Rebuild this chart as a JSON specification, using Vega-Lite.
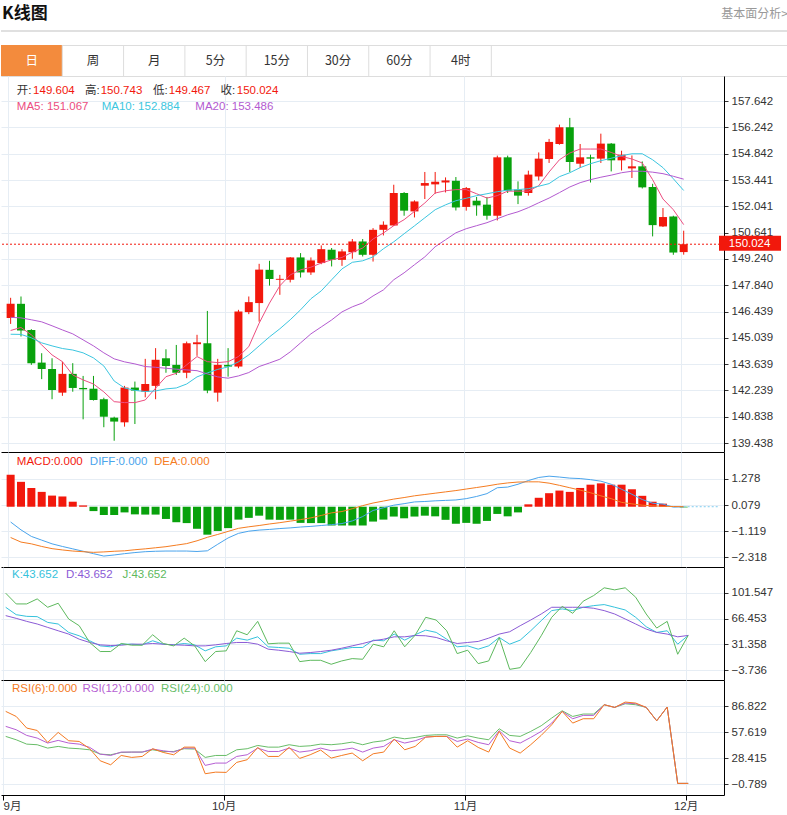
{
"$schema": "https://vega.github.io/schema/vega-lite/v6.json",
"padding": 0,
"spacing": 0,
"bounds": "flush",
"background": "white",
"config": {
  "view": {"stroke": null},
  "axis": {"gridColor": "#e6edf4", "domainColor": "#000000", "tickColor": "#333333", "labelColor": "#333333", "labelFont": "Liberation Sans, Noto Sans CJK SC", "labelFontSize": 11.5, "labelOverlap": false, "labelSeparation": 0},
  "text": {"font": "Liberation Sans, Noto Sans CJK SC"}
},
"resolve": {"scale": {"color": "independent"}},
"datasets": {
"k": [
{"i":0,"o":146.09,"h":147.17,"l":145.78,"c":146.85,"m5":145.43,"m10":145.23,"m20":146.13,"mh":1.47,"dif":-0.70,"dea":-1.41,"k":81.95,"d":70.6,"j":101.1,"r6":81.2,"r12":64.3,"r24":53.0},
{"i":1,"o":146.85,"h":147.24,"l":145.11,"c":145.43,"m5":145.59,"m10":145.22,"m20":146.1,"mh":1.14,"dif":-1.06,"dea":-1.62,"k":71.9,"d":66.9,"j":86.5,"r6":75.5,"r12":60.5,"r24":49.2},
{"i":2,"o":145.46,"h":145.5,"l":143.6,"c":143.69,"m5":145.2,"m10":145.04,"m20":146.0,"mh":0.86,"dif":-1.36,"dea":-1.70,"k":69.6,"d":62.8,"j":86.5,"r6":62.4,"r12":54.1,"r24":44.3},
{"i":3,"o":143.72,"h":144.22,"l":142.84,"c":143.38,"m5":144.66,"m10":144.77,"m20":145.89,"mh":0.68,"dif":-1.53,"dea":-1.82,"k":69.2,"d":59.2,"j":93.3,"r6":59.7,"r12":51.1,"r24":43.6},
{"i":4,"o":143.38,"h":143.95,"l":141.77,"c":142.26,"m5":144.13,"m10":144.61,"m20":145.68,"mh":0.51,"dif":-1.70,"dea":-1.92,"k":61.4,"d":54.6,"j":81.95,"r6":46.2,"r12":45.5,"r24":39.8},
{"i":5,"o":142.12,"h":143.77,"l":141.95,"c":143.12,"m5":143.77,"m10":144.47,"m20":145.46,"mh":0.47,"dif":-1.82,"dea":-1.98,"k":59.2,"d":50.0,"j":87.4,"r6":57.5,"r12":48.5,"r24":41.7},
{"i":6,"o":143.12,"h":143.69,"l":142.17,"c":142.37,"m5":143.06,"m10":144.39,"m20":145.25,"mh":0.23,"dif":-1.93,"dea":-2.03,"k":47.8,"d":45.5,"j":66.0,"r6":48.1,"r12":45.5,"r24":39.8},
{"i":7,"o":142.37,"h":143.01,"l":140.70,"c":142.30,"m5":142.80,"m10":144.24,"m20":144.93,"mh":0.06,"dif":-2.04,"dea":-2.06,"k":43.2,"d":38.6,"j":56.9,"r6":47.3,"r12":44.3,"r24":39.1},
{"i":8,"o":142.33,"h":143.01,"l":141.70,"c":141.73,"m5":142.58,"m10":143.97,"m20":144.61,"mh":-0.20,"dif":-2.15,"dea":-2.09,"k":36.4,"d":34.1,"j":34.1,"r6":39.1,"r12":40.6,"r24":37.9},
{"i":9,"o":141.77,"h":141.85,"l":140.28,"c":140.84,"m5":142.16,"m10":143.54,"m20":144.24,"mh":-0.38,"dif":-2.26,"dea":-2.07,"k":29.5,"d":30.9,"j":21.8,"r6":25.5,"r12":33.0,"r24":33.0},
{"i":10,"o":140.79,"h":140.84,"l":139.56,"c":140.58,"m5":141.64,"m10":142.74,"m20":143.92,"mh":-0.38,"dif":-2.21,"dea":-2.04,"k":28.2,"d":30.0,"j":21.8,"r6":21.0,"r12":31.5,"r24":32.3},
{"i":11,"o":140.54,"h":142.48,"l":140.31,"c":142.39,"m5":141.59,"m10":142.37,"m20":143.76,"mh":-0.26,"dif":-2.15,"dea":-2.02,"k":31.8,"d":30.4,"j":32.7,"r6":31.5,"r12":35.3,"r24":34.9},
{"i":12,"o":142.39,"h":142.71,"l":140.45,"c":142.23,"m5":141.59,"m10":142.24,"m20":143.65,"mh":-0.35,"dif":-2.10,"dea":-1.97,"k":31.8,"d":31.8,"j":30.4,"r6":29.3,"r12":35.3,"r24":35.3},
{"i":13,"o":142.17,"h":143.92,"l":141.87,"c":142.58,"m5":141.73,"m10":142.18,"m20":143.51,"mh":-0.36,"dif":-2.06,"dea":-1.93,"k":30.9,"d":31.8,"j":30.4,"r6":30.4,"r12":35.3,"r24":35.3},
{"i":14,"o":142.48,"h":144.49,"l":141.77,"c":143.87,"m5":142.36,"m10":142.21,"m20":143.47,"mh":-0.36,"dif":-2.04,"dea":-1.88,"k":36.4,"d":32.7,"j":44.6,"r6":39.1,"r12":38.7,"r24":37.9},
{"i":15,"o":143.95,"h":144.43,"l":143.18,"c":143.54,"m5":142.97,"m10":142.32,"m20":143.42,"mh":-0.56,"dif":-2.03,"dea":-1.83,"k":31.8,"d":31.8,"j":32.7,"r6":34.9,"r12":36.8,"r24":36.0},
{"i":16,"o":143.60,"h":144.66,"l":143.06,"c":143.18,"m5":143.15,"m10":142.37,"m20":143.37,"mh":-0.71,"dif":-2.03,"dea":-1.76,"k":30.9,"d":30.9,"j":29.5,"r6":32.3,"r12":35.3,"r24":36.0},
{"i":17,"o":143.18,"h":144.84,"l":142.89,"c":144.75,"m5":143.60,"m10":142.58,"m20":143.33,"mh":-0.75,"dif":-2.03,"dea":-1.69,"k":32.7,"d":30.4,"j":40.0,"r6":40.9,"r12":39.8,"r24":39.1},
{"i":18,"o":144.70,"h":145.20,"l":144.08,"c":144.80,"m5":144.04,"m10":142.96,"m20":143.29,"mh":-1.01,"dif":-2.05,"dea":-1.56,"k":30.9,"d":29.5,"j":29.5,"r6":40.9,"r12":39.8,"r24":38.7},
{"i":19,"o":144.75,"h":146.47,"l":142.09,"c":142.23,"m5":143.77,"m10":143.17,"m20":143.12,"mh":-1.28,"dif":-2.02,"dea":-1.40,"k":22.7,"d":29.5,"j":8.1,"r6":10.9,"r12":20.3,"r24":29.3},
{"i":20,"o":142.12,"h":143.92,"l":141.64,"c":143.60,"m5":143.72,"m10":143.36,"m20":142.96,"mh":-1.11,"dif":-1.72,"dea":-1.27,"k":28.2,"d":30.9,"j":21.8,"r6":12.7,"r12":22.9,"r24":31.5},
{"i":21,"o":143.60,"h":144.49,"l":142.97,"c":143.51,"m5":143.77,"m10":143.49,"m20":142.89,"mh":-0.98,"dif":-1.43,"dea":-1.13,"k":29.5,"d":32.7,"j":22.7,"r6":12.4,"r12":22.9,"r24":31.5},
{"i":22,"o":143.51,"h":146.53,"l":143.42,"c":146.44,"m5":144.04,"m10":143.76,"m20":143.01,"mh":-0.59,"dif":-1.22,"dea":-0.99,"k":40.0,"d":34.1,"j":50.0,"r6":23.7,"r12":30.4,"r24":37.9},
{"i":23,"o":146.41,"h":147.24,"l":146.30,"c":146.94,"m5":144.57,"m10":144.13,"m20":143.19,"mh":-0.51,"dif":-1.12,"dea":-0.92,"k":37.3,"d":34.1,"j":44.6,"r6":26.7,"r12":32.3,"r24":39.1},
{"i":24,"o":146.89,"h":148.98,"l":145.90,"c":148.67,"m5":145.82,"m10":144.61,"m20":143.51,"mh":-0.41,"dif":-1.07,"dea":-0.86,"k":41.8,"d":31.8,"j":62.8,"r6":40.6,"r12":39.8,"r24":42.8},
{"i":25,"o":148.66,"h":149.14,"l":147.82,"c":148.17,"m5":146.89,"m10":145.09,"m20":143.70,"mh":-0.59,"dif":-1.04,"dea":-0.79,"k":28.2,"d":25.0,"j":32.3,"r6":30.4,"r12":36.0,"r24":40.9},
{"i":26,"o":148.13,"h":148.39,"l":147.33,"c":148.18,"m5":147.81,"m10":145.52,"m20":143.90,"mh":-0.60,"dif":-1.00,"dea":-0.73,"k":27.3,"d":23.6,"j":33.2,"r6":30.4,"r12":36.0,"r24":40.9},
{"i":27,"o":148.13,"h":149.34,"l":147.99,"c":149.32,"m5":148.39,"m10":146.00,"m20":144.29,"mh":-0.59,"dif":-0.97,"dea":-0.66,"k":26.3,"d":21.8,"j":33.2,"r6":40.6,"r12":39.8,"r24":43.6},
{"i":28,"o":149.32,"h":149.55,"l":148.25,"c":148.52,"m5":148.66,"m10":146.53,"m20":144.77,"mh":-0.74,"dif":-0.93,"dea":-0.59,"k":18.1,"d":19.5,"j":8.1,"r6":28.2,"r12":35.3,"r24":41.7},
{"i":29,"o":148.52,"h":149.32,"l":148.39,"c":149.16,"m5":148.80,"m10":147.12,"m20":145.25,"mh":-0.75,"dif":-0.90,"dea":-0.51,"k":19.0,"d":20.4,"j":9.9,"r6":32.3,"r12":36.8,"r24":42.4},
{"i":30,"o":149.02,"h":149.96,"l":148.96,"c":149.76,"m5":149.02,"m10":147.54,"m20":145.62,"mh":-0.75,"dif":-0.86,"dea":-0.40,"k":19.0,"d":21.8,"j":9.9,"r6":37.6,"r12":39.8,"r24":44.3},
{"i":31,"o":149.73,"h":149.82,"l":148.84,"c":149.19,"m5":149.19,"m10":148.13,"m20":145.99,"mh":-0.86,"dif":-0.82,"dea":-0.28,"k":22.7,"d":23.6,"j":4.5,"r6":28.5,"r12":36.8,"r24":43.6},
{"i":32,"o":149.19,"h":149.76,"l":148.87,"c":149.64,"m5":149.32,"m10":148.71,"m20":146.42,"mh":-0.86,"dif":-0.77,"dea":-0.22,"k":25.0,"d":26.3,"j":9.0,"r6":31.5,"r12":37.9,"r24":44.7},
{"i":33,"o":149.60,"h":150.30,"l":149.25,"c":150.17,"m5":149.60,"m10":149.06,"m20":146.69,"mh":-0.86,"dif":-0.65,"dea":-0.09,"k":27.3,"d":29.5,"j":12.2,"r6":34.2,"r12":39.8,"r24":46.6},
{"i":34,"o":150.17,"h":150.30,"l":149.37,"c":149.46,"m5":149.82,"m10":149.14,"m20":146.90,"mh":-0.86,"dif":-0.45,"dea":0.05,"k":27.3,"d":32.7,"j":11.3,"r6":25.5,"r12":35.3,"r24":43.6},
{"i":35,"o":149.46,"h":150.88,"l":149.10,"c":150.79,"m5":150.30,"m10":149.35,"m20":147.27,"mh":-0.68,"dif":-0.17,"dea":0.17,"k":37.3,"d":36.4,"j":31.8,"r6":33.4,"r12":39.8,"r24":46.6},
{"i":36,"o":150.79,"h":151.24,"l":150.49,"c":151.06,"m5":150.62,"m10":149.78,"m20":147.59,"mh":-0.59,"dif":-0.05,"dea":0.26,"k":36.4,"d":38.6,"j":28.2,"r6":35.3,"r12":41.7,"r24":48.1},
{"i":37,"o":151.02,"h":153.19,"l":151.00,"c":152.75,"m5":151.01,"m10":150.15,"m20":148.13,"mh":-0.45,"dif":0.07,"dea":0.35,"k":45.5,"d":41.8,"j":50.0,"r6":50.0,"r12":49.2,"r24":52.2},
{"i":38,"o":152.75,"h":152.80,"l":151.54,"c":151.81,"m5":151.33,"m10":150.58,"m20":148.50,"mh":-0.53,"dif":0.14,"dea":0.42,"k":37.3,"d":41.8,"j":28.2,"r6":37.9,"r12":45.5,"r24":50.3},
{"i":39,"o":151.77,"h":152.36,"l":151.45,"c":152.30,"m5":151.77,"m10":151.00,"m20":148.93,"mh":-0.45,"dif":0.22,"dea":0.50,"k":44.6,"d":43.6,"j":44.1,"r6":41.7,"r12":48.1,"r24":51.8},
{"i":40,"o":153.14,"h":153.87,"l":152.43,"c":153.28,"m5":152.22,"m10":151.43,"m20":149.35,"mh":-0.41,"dif":0.24,"dea":0.56,"k":50.9,"d":43.2,"j":68.3,"r6":52.2,"r12":52.2,"r24":54.1},
{"i":41,"o":153.21,"h":153.87,"l":152.71,"c":153.35,"m5":152.75,"m10":151.86,"m20":149.89,"mh":-0.44,"dif":0.27,"dea":0.62,"k":47.8,"d":40.9,"j":64.6,"r6":53.0,"r12":53.0,"r24":54.8},
{"i":42,"o":153.31,"h":153.58,"l":152.78,"c":153.42,"m5":152.87,"m10":152.12,"m20":150.26,"mh":-0.60,"dif":0.29,"dea":0.68,"k":38.6,"d":36.4,"j":50.0,"r6":53.0,"r12":53.0,"r24":54.8},
{"i":43,"o":153.40,"h":153.60,"l":151.82,"c":151.98,"m5":152.93,"m10":152.34,"m20":150.63,"mh":-0.78,"dif":0.31,"dea":0.74,"k":28.2,"d":32.7,"j":19.0,"r6":40.9,"r12":47.3,"r24":51.1},
{"i":44,"o":152.01,"h":153.07,"l":151.81,"c":153.01,"m5":152.93,"m10":152.47,"m20":150.85,"mh":-0.74,"dif":0.37,"dea":0.81,"k":29.5,"d":34.1,"j":23.6,"r6":48.1,"r12":50.0,"r24":53.7},
{"i":45,"o":152.34,"h":152.54,"l":151.54,"c":152.09,"m5":152.71,"m10":152.61,"m20":151.01,"mh":-0.78,"dif":0.47,"dea":0.88,"k":25.0,"d":35.5,"j":5.4,"r6":40.6,"r12":46.2,"r24":51.1},
{"i":46,"o":152.13,"h":152.54,"l":151.33,"c":151.54,"m5":152.48,"m10":152.71,"m20":151.17,"mh":-0.65,"dif":0.60,"dea":0.95,"k":29.5,"d":40.0,"j":9.0,"r6":35.3,"r12":43.6,"r24":49.2},
{"i":47,"o":151.54,"h":154.74,"l":151.29,"c":154.65,"m5":152.61,"m10":152.82,"m20":151.38,"mh":-0.33,"dif":0.87,"dea":1.03,"k":40.9,"d":45.5,"j":40.9,"r6":58.6,"r12":59.4,"r24":61.6},
{"i":48,"o":154.65,"h":154.74,"l":152.75,"c":152.87,"m5":152.85,"m10":152.90,"m20":151.59,"mh":-0.44,"dif":0.90,"dea":1.09,"k":31.8,"d":48.7,"j":-2.4,"r6":39.8,"r12":48.1,"r24":54.1},
{"i":49,"o":152.93,"h":153.37,"l":152.16,"c":152.61,"m5":152.85,"m10":152.93,"m20":151.75,"mh":-0.26,"dif":1.03,"dea":1.13,"k":37.3,"d":56.9,"j":-0.1,"r6":34.2,"r12":45.5,"r24":53.0},
{"i":50,"o":152.75,"h":153.94,"l":152.61,"c":153.73,"m5":152.85,"m10":152.98,"m20":151.97,"mh":0.11,"dif":1.20,"dea":1.14,"k":50.0,"d":64.6,"j":20.4,"r6":43.6,"r12":51.8,"r24":58.6},
{"i":51,"o":153.63,"h":154.91,"l":153.42,"c":154.58,"m5":153.14,"m10":153.11,"m20":152.23,"mh":0.41,"dif":1.34,"dea":1.14,"k":63.7,"d":72.8,"j":43.2,"r6":54.1,"r12":58.6,"r24":65.0},
{"i":52,"o":154.56,"h":155.63,"l":154.35,"c":155.47,"m5":153.87,"m10":153.25,"m20":152.48,"mh":0.62,"dif":1.40,"dea":1.08,"k":77.4,"d":81.95,"j":68.3,"r6":66.1,"r12":68.0,"r24":73.7},
{"i":53,"o":155.36,"h":156.39,"l":155.32,"c":156.25,"m5":154.52,"m10":153.62,"m20":152.77,"mh":0.74,"dif":1.36,"dea":0.98,"k":79.7,"d":81.95,"j":83.3,"r6":81.2,"r12":81.2,"r24":81.9},
{"i":54,"o":156.25,"h":156.75,"l":153.87,"c":154.40,"m5":154.88,"m10":153.83,"m20":153.07,"mh":0.68,"dif":1.31,"dea":0.87,"k":77.4,"d":81.95,"j":73.7,"r6":68.0,"r12":72.9,"r24":75.5},
{"i":55,"o":154.31,"h":155.36,"l":154.08,"c":154.65,"m5":155.09,"m10":154.10,"m20":153.30,"mh":0.86,"dif":1.29,"dea":0.76,"k":81.95,"d":81.95,"j":90.2,"r6":72.9,"r12":76.7,"r24":78.2},
{"i":56,"o":154.65,"h":154.79,"l":153.31,"c":154.58,"m5":155.09,"m10":154.31,"m20":153.46,"mh":1.01,"dif":1.24,"dea":0.64,"k":84.2,"d":80.6,"j":97.9,"r6":72.9,"r12":76.7,"r24":78.2},
{"i":57,"o":154.58,"h":155.91,"l":154.35,"c":155.38,"m5":155.09,"m10":154.47,"m20":153.59,"mh":1.07,"dif":1.17,"dea":0.50,"k":85.6,"d":77.4,"j":108.4,"r6":88.7,"r12":88.7,"r24":88.7},
{"i":58,"o":155.38,"h":155.41,"l":153.90,"c":154.49,"m5":154.91,"m10":154.60,"m20":153.70,"mh":1.01,"dif":1.03,"dea":0.37,"k":82.0,"d":72.8,"j":105.6,"r6":85.7,"r12":85.7,"r24":85.7},
{"i":59,"o":154.49,"h":155.00,"l":153.95,"c":154.79,"m5":154.70,"m10":154.74,"m20":153.83,"mh":1.01,"dif":0.80,"dea":0.20,"k":78.3,"d":66.0,"j":108.4,"r6":91.7,"r12":90.6,"r24":89.8},
{"i":60,"o":154.06,"h":154.75,"l":153.55,"c":154.17,"m5":154.56,"m10":154.84,"m20":153.91,"mh":0.80,"dif":0.57,"dea":0.13,"k":68.3,"d":59.2,"j":95.6,"r6":90.6,"r12":89.8,"r24":88.7},
{"i":61,"o":154.17,"h":154.43,"l":152.99,"c":153.05,"m5":154.35,"m10":154.84,"m20":153.91,"mh":0.50,"dif":0.33,"dea":0.07,"k":55.5,"d":52.3,"j":72.8,"r6":85.7,"r12":85.7,"r24":85.7},
{"i":62,"o":153.07,"h":153.24,"l":150.44,"c":151.04,"m5":153.46,"m10":154.52,"m20":153.86,"mh":0.23,"dif":0.16,"dea":0.04,"k":47.8,"d":47.8,"j":53.7,"r6":70.6,"r12":70.6,"r24":70.6},
{"i":63,"o":150.97,"h":151.95,"l":150.94,"c":151.47,"m5":152.43,"m10":154.10,"m20":153.78,"mh":0.14,"dif":0.12,"dea":0.02,"k":50.0,"d":45.5,"j":62.8,"r6":86.1,"r12":86.1,"r24":86.1},
{"i":64,"o":151.50,"h":151.54,"l":149.46,"c":149.58,"m5":151.86,"m10":153.51,"m20":153.64,"mh":0.01,"dif":-0.02,"dea":0.01,"k":31.8,"d":41.8,"j":18.1,"r6":0,"r12":0,"r24":0},
{"i":65,"o":149.604,"h":150.743,"l":149.467,"c":150.024,"m5":151.067,"m10":152.884,"m20":153.486,"mh":-0.03,"dif":0,"dea":0,"k":43.652,"d":43.652,"j":43.652,"r6":0,"r12":0,"r24":0}
]
},
"vconcat": [
{
  "width": 787, "height": 45,
  "layer": [
    {"data": {"values": [{"t": "K线图", "x": 0, "y": 0.68}]},
     "mark": {"type": "text", "align": "left", "baseline": "middle", "fontSize": 17, "fontWeight": "bold", "font": "Noto Sans CJK SC", "color": "#111111", "dx": 1},
     "encoding": {"x": {"field": "x", "type": "quantitative", "scale": {"domain": [0, 1]}, "axis": null},
                  "y": {"field": "y", "type": "quantitative", "scale": {"domain": [0, 1]}, "axis": null},
                  "text": {"field": "t"}}},
    {"data": {"values": [{"t": "基本面分析>", "x": 1, "y": 0.7}]},
     "mark": {"type": "text", "align": "right", "baseline": "middle", "fontSize": 12, "font": "Noto Sans CJK SC", "color": "#999999"},
     "encoding": {"x": {"field": "x", "type": "quantitative", "scale": {"domain": [0, 1]}, "axis": null},
                  "y": {"field": "y", "type": "quantitative", "scale": {"domain": [0, 1]}, "axis": null},
                  "text": {"field": "t"}}},
    {"data": {"values": [{"y": 0.311}]},
     "mark": {"type": "rule", "color": "#d6d6d6", "strokeWidth": 1.5},
     "encoding": {"y": {"field": "y", "type": "quantitative", "scale": {"domain": [0, 1]}, "axis": null}}}
  ]
},
{
  "width": 787, "height": 31,
  "view": {"stroke": "#dddddd"},
  "layer": [
    {"data": {"values": [{"a": -0.5, "b": 0.5}]},
     "mark": {"type": "rect", "color": "#f38b3d"},
     "encoding": {"x": {"field": "a", "type": "quantitative", "scale": {"domain": [-0.5, 12.34], "nice": false, "zero": false}, "axis": null},
                  "x2": {"field": "b"}}},
    {"data": {"values": [{"b": 0.5}, {"b": 1.5}, {"b": 2.5}, {"b": 3.5}, {"b": 4.5}, {"b": 5.5}, {"b": 6.5}, {"b": 7.5}]},
     "mark": {"type": "rule", "color": "#dddddd"},
     "encoding": {"x": {"field": "b", "type": "quantitative", "scale": {"domain": [-0.5, 12.34], "nice": false, "zero": false}, "axis": null}}},
    {"data": {"values": [{"n": 0, "t": "日"}, {"n": 1, "t": "周"}, {"n": 2, "t": "月"}, {"n": 3, "t": "5分"}, {"n": 4, "t": "15分"}, {"n": 5, "t": "30分"}, {"n": 6, "t": "60分"}, {"n": 7, "t": "4时"}]},
     "mark": {"type": "text", "fontSize": 12.5, "font": "Noto Sans CJK SC", "baseline": "middle"},
     "encoding": {"x": {"field": "n", "type": "quantitative", "scale": {"domain": [-0.5, 12.34], "nice": false, "zero": false}, "axis": null},
                  "text": {"field": "t"},
                  "color": {"condition": {"test": "datum.n == 0", "value": "#ffffff"}, "value": "#333333"}}}
  ]
},
{
  "width": 723, "height": 376,
  "data": {"name": "k"},
  "layer": [
    {"mark": {"type": "rule", "strokeWidth": 1},
     "encoding": {
       "x": {"field": "i", "type": "quantitative", "scale": {"domain": [-0.4476, 68.41], "nice": false, "zero": false}, "axis": {"values": [-0.25, 20.75, 43.75, 64.75], "labels": false, "ticks": false, "grid": true, "domain": true, "title": null}},
       "y": {"field": "l", "type": "quantitative", "scale": {"domain": [138.96, 158.98], "nice": false, "zero": false}, "axis": {"orient": "right", "values": [157.642, 156.242, 154.842, 153.441, 152.041, 150.641, 149.240, 147.840, 146.439, 145.039, 143.639, 142.239, 140.838, 139.438], "format": ".3f", "grid": true, "tickSize": 4, "labelPadding": 3, "labelOverlap": false, "title": null}},
       "y2": {"field": "h"},
       "color": {"condition": {"test": "datum.c >= datum.o", "value": "#f2180c"}, "value": "#08a10c"}}},
    {"mark": {"type": "bar", "width": 8},
     "encoding": {
       "x": {"field": "i", "type": "quantitative", "axis": {"values": [-0.25, 20.75, 43.75, 64.75], "labels": false, "ticks": false, "grid": true, "domain": true, "title": null}},
       "y": {"field": "o", "type": "quantitative", "axis": {"orient": "right", "values": [157.642, 156.242, 154.842, 153.441, 152.041, 150.641, 149.240, 147.840, 146.439, 145.039, 143.639, 142.239, 140.838, 139.438], "format": ".3f", "grid": true, "tickSize": 4, "labelPadding": 3, "labelOverlap": false, "title": null}},
       "y2": {"field": "c"},
       "color": {"condition": {"test": "datum.c >= datum.o", "value": "#f2180c"}, "value": "#08a10c"}}},
    {"mark": {"type": "line", "color": "#ec4d7f", "strokeWidth": 1},
     "encoding": {
       "x": {"field": "i", "type": "quantitative", "axis": {"values": [-0.25, 20.75, 43.75, 64.75], "labels": false, "ticks": false, "grid": true, "domain": true, "title": null}},
       "y": {"field": "m5", "type": "quantitative", "axis": {"orient": "right", "values": [157.642, 156.242, 154.842, 153.441, 152.041, 150.641, 149.240, 147.840, 146.439, 145.039, 143.639, 142.239, 140.838, 139.438], "format": ".3f", "grid": true, "tickSize": 4, "labelPadding": 3, "labelOverlap": false, "title": null}}}},
    {"mark": {"type": "line", "color": "#3cc6e0", "strokeWidth": 1},
     "encoding": {
       "x": {"field": "i", "type": "quantitative", "axis": {"values": [-0.25, 20.75, 43.75, 64.75], "labels": false, "ticks": false, "grid": true, "domain": true, "title": null}},
       "y": {"field": "m10", "type": "quantitative", "axis": {"orient": "right", "values": [157.642, 156.242, 154.842, 153.441, 152.041, 150.641, 149.240, 147.840, 146.439, 145.039, 143.639, 142.239, 140.838, 139.438], "format": ".3f", "grid": true, "tickSize": 4, "labelPadding": 3, "labelOverlap": false, "title": null}}}},
    {"mark": {"type": "line", "color": "#b35ad0", "strokeWidth": 1},
     "encoding": {
       "x": {"field": "i", "type": "quantitative", "axis": {"values": [-0.25, 20.75, 43.75, 64.75], "labels": false, "ticks": false, "grid": true, "domain": true, "title": null}},
       "y": {"field": "m20", "type": "quantitative", "axis": {"orient": "right", "values": [157.642, 156.242, 154.842, 153.441, 152.041, 150.641, 149.240, 147.840, 146.439, 145.039, 143.639, 142.239, 140.838, 139.438], "format": ".3f", "grid": true, "tickSize": 4, "labelPadding": 3, "labelOverlap": false, "title": null}}}},
    {"data": {"values": [{"p": 150.024}]},
     "mark": {"type": "rule", "color": "#f2180c", "strokeDash": [2, 2], "strokeWidth": 1},
     "encoding": {"y": {"field": "p", "type": "quantitative", "axis": {"orient": "right", "values": [157.642, 156.242, 154.842, 153.441, 152.041, 150.641, 149.240, 147.840, 146.439, 145.039, 143.639, 142.239, 140.838, 139.438], "format": ".3f", "grid": true, "tickSize": 4, "labelPadding": 3, "labelOverlap": false, "title": null}}}},
    {"data": {"values": [{"a": 68.41, "b": 74.4, "lo": 149.674, "hi": 150.473}]},
     "mark": {"type": "rect", "color": "#f2180c"},
     "encoding": {
       "x": {"field": "a", "type": "quantitative", "axis": {"values": [-0.25, 20.75, 43.75, 64.75], "labels": false, "ticks": false, "grid": true, "domain": true, "title": null}},
       "x2": {"field": "b"},
       "y": {"field": "lo", "type": "quantitative", "axis": {"orient": "right", "values": [157.642, 156.242, 154.842, 153.441, 152.041, 150.641, 149.240, 147.840, 146.439, 145.039, 143.639, 142.239, 140.838, 139.438], "format": ".3f", "grid": true, "tickSize": 4, "labelPadding": 3, "labelOverlap": false, "title": null}},
       "y2": {"field": "hi"}}},
    {"data": {"values": [{"t": "150.024", "x": 69.36, "y": 150.024}]},
     "mark": {"type": "text", "align": "left", "baseline": "middle", "fontSize": 11.5, "color": "#ffffff"},
     "encoding": {
       "x": {"field": "x", "type": "quantitative", "axis": {"values": [-0.25, 20.75, 43.75, 64.75], "labels": false, "ticks": false, "grid": true, "domain": true, "title": null}},
       "y": {"field": "y", "type": "quantitative", "axis": {"orient": "right", "values": [157.642, 156.242, 154.842, 153.441, 152.041, 150.641, 149.240, 147.840, 146.439, 145.039, 143.639, 142.239, 140.838, 139.438], "format": ".3f", "grid": true, "tickSize": 4, "labelPadding": 3, "labelOverlap": false, "title": null}},
       "text": {"field": "t"}}},
    {"data": {"values": [
       {"t": "开:", "x": 0.6, "y": 158.2, "s": "lab"},
       {"t": "149.604", "x": 2.17, "y": 158.2, "s": "val"},
       {"t": "高:", "x": 7.17, "y": 158.2, "s": "lab"},
       {"t": "150.743", "x": 8.7, "y": 158.2, "s": "val"},
       {"t": "低:", "x": 13.74, "y": 158.2, "s": "lab"},
       {"t": "149.467", "x": 15.27, "y": 158.2, "s": "val"},
       {"t": "收:", "x": 20.27, "y": 158.2, "s": "lab"},
       {"t": "150.024", "x": 21.84, "y": 158.2, "s": "val"},
       {"t": "MA5: 151.067", "x": 0.6, "y": 157.35, "s": "ma5"},
       {"t": "MA10: 152.884", "x": 8.79, "y": 157.35, "s": "ma10"},
       {"t": "MA20: 153.486", "x": 17.84, "y": 157.35, "s": "ma20"}]},
     "mark": {"type": "text", "align": "left", "baseline": "middle", "fontSize": 11.5},
     "encoding": {
       "x": {"field": "x", "type": "quantitative", "axis": {"values": [-0.25, 20.75, 43.75, 64.75], "labels": false, "ticks": false, "grid": true, "domain": true, "title": null}},
       "y": {"field": "y", "type": "quantitative", "axis": {"orient": "right", "values": [157.642, 156.242, 154.842, 153.441, 152.041, 150.641, 149.240, 147.840, 146.439, 145.039, 143.639, 142.239, 140.838, 139.438], "format": ".3f", "grid": true, "tickSize": 4, "labelPadding": 3, "labelOverlap": false, "title": null}},
       "text": {"field": "t"},
       "color": {"field": "s", "type": "nominal", "scale": {"domain": ["lab", "val", "ma5", "ma10", "ma20"], "range": ["#333333", "#f2180c", "#ec4d7f", "#3cc6e0", "#b35ad0"]}, "legend": null}}}
  ]
},
{
  "width": 723, "height": 115,
  "data": {"name": "k"},
  "layer": [
    {"mark": {"type": "bar", "width": 8},
     "encoding": {
       "x": {"field": "i", "type": "quantitative", "scale": {"domain": [-0.4476, 68.41], "nice": false, "zero": false}, "axis": {"values": [-0.25, 20.75, 43.75, 64.75], "labels": false, "ticks": false, "grid": true, "domain": true, "title": null}},
       "y": {"field": "mh", "type": "quantitative", "scale": {"domain": [-2.761, 2.507], "nice": false, "zero": false}, "axis": {"orient": "right", "values": [1.278, 0.079, -1.119, -2.318], "format": ".3f", "grid": true, "tickSize": 4, "labelPadding": 3, "labelOverlap": false, "title": null}},
       "y2": {"datum": 0},
       "color": {"condition": {"test": "datum.mh >= 0", "value": "#f2180c"}, "value": "#08a10c"}}},
    {"mark": {"type": "line", "color": "#4aa4ec", "strokeWidth": 1},
     "encoding": {
       "x": {"field": "i", "type": "quantitative", "axis": {"values": [-0.25, 20.75, 43.75, 64.75], "labels": false, "ticks": false, "grid": true, "domain": true, "title": null}},
       "y": {"field": "dif", "type": "quantitative", "axis": {"orient": "right", "values": [1.278, 0.079, -1.119, -2.318], "format": ".3f", "grid": true, "tickSize": 4, "labelPadding": 3, "labelOverlap": false, "title": null}}}},
    {"mark": {"type": "line", "color": "#f57c21", "strokeWidth": 1},
     "encoding": {
       "x": {"field": "i", "type": "quantitative", "axis": {"values": [-0.25, 20.75, 43.75, 64.75], "labels": false, "ticks": false, "grid": true, "domain": true, "title": null}},
       "y": {"field": "dea", "type": "quantitative", "axis": {"orient": "right", "values": [1.278, 0.079, -1.119, -2.318], "format": ".3f", "grid": true, "tickSize": 4, "labelPadding": 3, "labelOverlap": false, "title": null}}}},
    {"data": {"values": [{"a": 65, "b": 68.41, "v": 0}]},
     "mark": {"type": "rule", "color": "#7fcdf0", "strokeDash": [2, 2], "strokeWidth": 1},
     "encoding": {
       "x": {"field": "a", "type": "quantitative", "axis": {"values": [-0.25, 20.75, 43.75, 64.75], "labels": false, "ticks": false, "grid": true, "domain": true, "title": null}},
       "x2": {"field": "b"},
       "y": {"field": "v", "type": "quantitative", "axis": {"orient": "right", "values": [1.278, 0.079, -1.119, -2.318], "format": ".3f", "grid": true, "tickSize": 4, "labelPadding": 3, "labelOverlap": false, "title": null}}}},
    {"data": {"values": [
       {"t": "MACD:0.000", "x": 0.6, "y": 2.05, "s": "m"},
       {"t": "DIFF:0.000", "x": 7.65, "y": 2.05, "s": "dif"},
       {"t": "DEA:0.000", "x": 13.84, "y": 2.05, "s": "dea"}]},
     "mark": {"type": "text", "align": "left", "baseline": "middle", "fontSize": 11.5},
     "encoding": {
       "x": {"field": "x", "type": "quantitative", "axis": {"values": [-0.25, 20.75, 43.75, 64.75], "labels": false, "ticks": false, "grid": true, "domain": true, "title": null}},
       "y": {"field": "y", "type": "quantitative", "axis": {"orient": "right", "values": [1.278, 0.079, -1.119, -2.318], "format": ".3f", "grid": true, "tickSize": 4, "labelPadding": 3, "labelOverlap": false, "title": null}},
       "text": {"field": "t"},
       "color": {"field": "s", "type": "nominal", "scale": {"domain": ["m", "dif", "dea"], "range": ["#f2180c", "#4aa4ec", "#f57c21"]}, "legend": null}}}
  ]
},
{
  "width": 723, "height": 113,
  "data": {"name": "k"},
  "layer": [
    {"mark": {"type": "line", "color": "#35c2dc", "strokeWidth": 1},
     "encoding": {
       "x": {"field": "i", "type": "quantitative", "scale": {"domain": [-0.4476, 68.41], "nice": false, "zero": false}, "axis": {"values": [-0.25, 20.75, 43.75, 64.75], "labels": false, "ticks": false, "grid": true, "domain": true, "title": null}},
       "y": {"field": "k", "type": "quantitative", "scale": {"domain": [-16.89, 136.68], "nice": false, "zero": false}, "axis": {"orient": "right", "values": [101.547, 66.453, 31.358, -3.736], "format": ".3f", "grid": true, "tickSize": 4, "labelPadding": 3, "labelOverlap": false, "title": null}}}},
    {"mark": {"type": "line", "color": "#8b5bd6", "strokeWidth": 1},
     "encoding": {
       "x": {"field": "i", "type": "quantitative", "axis": {"values": [-0.25, 20.75, 43.75, 64.75], "labels": false, "ticks": false, "grid": true, "domain": true, "title": null}},
       "y": {"field": "d", "type": "quantitative", "axis": {"orient": "right", "values": [101.547, 66.453, 31.358, -3.736], "format": ".3f", "grid": true, "tickSize": 4, "labelPadding": 3, "labelOverlap": false, "title": null}}}},
    {"mark": {"type": "line", "color": "#5db95d", "strokeWidth": 1},
     "encoding": {
       "x": {"field": "i", "type": "quantitative", "axis": {"values": [-0.25, 20.75, 43.75, 64.75], "labels": false, "ticks": false, "grid": true, "domain": true, "title": null}},
       "y": {"field": "j", "type": "quantitative", "axis": {"orient": "right", "values": [101.547, 66.453, 31.358, -3.736], "format": ".3f", "grid": true, "tickSize": 4, "labelPadding": 3, "labelOverlap": false, "title": null}}}},
    {"data": {"values": [
       {"t": "K:43.652", "x": 0.6, "y": 125.8, "s": "k"},
       {"t": "D:43.652", "x": 5.74, "y": 125.8, "s": "d"},
       {"t": "J:43.652", "x": 11.12, "y": 125.8, "s": "j"}]},
     "mark": {"type": "text", "align": "left", "baseline": "middle", "fontSize": 11.5},
     "encoding": {
       "x": {"field": "x", "type": "quantitative", "axis": {"values": [-0.25, 20.75, 43.75, 64.75], "labels": false, "ticks": false, "grid": true, "domain": true, "title": null}},
       "y": {"field": "y", "type": "quantitative", "axis": {"orient": "right", "values": [101.547, 66.453, 31.358, -3.736], "format": ".3f", "grid": true, "tickSize": 4, "labelPadding": 3, "labelOverlap": false, "title": null}},
       "text": {"field": "t"},
       "color": {"field": "s", "type": "nominal", "scale": {"domain": ["k", "d", "j"], "range": ["#35c2dc", "#8b5bd6", "#5db95d"]}, "legend": null}}}
  ]
},
{
  "width": 723, "height": 115,
  "data": {"name": "k"},
  "layer": [
    {"mark": {"type": "line", "color": "#68bd68", "strokeWidth": 1},
     "encoding": {
       "x": {"field": "i", "type": "quantitative", "scale": {"domain": [-0.4476, 68.41], "nice": false, "zero": false}, "axis": {"values": [-0.25, 20.75, 43.75, 64.75], "labelExpr": "datum.value < 10 ? '9月' : datum.value < 30 ? '10月' : datum.value < 50 ? '11月' : '12月'", "labels": true, "ticks": true, "tickSize": 5, "tickColor": "#000000", "labelPadding": 0, "labelFlush": 6, "labelOverlap": false, "grid": true, "domain": true, "title": null}},
       "y": {"field": "r24", "type": "quantitative", "scale": {"domain": [-13.08, 116.59], "nice": false, "zero": false}, "axis": {"orient": "right", "values": [86.822, 57.619, 28.415, -0.789], "format": ".3f", "grid": true, "tickSize": 4, "labelPadding": 3, "labelOverlap": false, "title": null}}}},
    {"mark": {"type": "line", "color": "#b65fd3", "strokeWidth": 1},
     "encoding": {
       "x": {"field": "i", "type": "quantitative", "axis": {"values": [-0.25, 20.75, 43.75, 64.75], "labelExpr": "datum.value < 10 ? '9月' : datum.value < 30 ? '10月' : datum.value < 50 ? '11月' : '12月'", "labels": true, "ticks": true, "tickSize": 5, "tickColor": "#000000", "labelPadding": 0, "labelFlush": 6, "labelOverlap": false, "grid": true, "domain": true, "title": null}},
       "y": {"field": "r12", "type": "quantitative", "axis": {"orient": "right", "values": [86.822, 57.619, 28.415, -0.789], "format": ".3f", "grid": true, "tickSize": 4, "labelPadding": 3, "labelOverlap": false, "title": null}}}},
    {"mark": {"type": "line", "color": "#f47a22", "strokeWidth": 1},
     "encoding": {
       "x": {"field": "i", "type": "quantitative", "axis": {"values": [-0.25, 20.75, 43.75, 64.75], "labelExpr": "datum.value < 10 ? '9月' : datum.value < 30 ? '10月' : datum.value < 50 ? '11月' : '12月'", "labels": true, "ticks": true, "tickSize": 5, "tickColor": "#000000", "labelPadding": 0, "labelFlush": 6, "labelOverlap": false, "grid": true, "domain": true, "title": null}},
       "y": {"field": "r6", "type": "quantitative", "axis": {"orient": "right", "values": [86.822, 57.619, 28.415, -0.789], "format": ".3f", "grid": true, "tickSize": 4, "labelPadding": 3, "labelOverlap": false, "title": null}}}},
    {"data": {"values": [
       {"t": "RSI(6):0.000", "x": 0.6, "y": 106.4, "s": "r6"},
       {"t": "RSI(12):0.000", "x": 7.31, "y": 106.4, "s": "r12"},
       {"t": "RSI(24):0.000", "x": 14.79, "y": 106.4, "s": "r24"}]},
     "mark": {"type": "text", "align": "left", "baseline": "middle", "fontSize": 11.5},
     "encoding": {
       "x": {"field": "x", "type": "quantitative", "axis": {"values": [-0.25, 20.75, 43.75, 64.75], "labelExpr": "datum.value < 10 ? '9月' : datum.value < 30 ? '10月' : datum.value < 50 ? '11月' : '12月'", "labels": true, "ticks": true, "tickSize": 5, "tickColor": "#000000", "labelPadding": 0, "labelFlush": 6, "labelOverlap": false, "grid": true, "domain": true, "title": null}},
       "y": {"field": "y", "type": "quantitative", "axis": {"orient": "right", "values": [86.822, 57.619, 28.415, -0.789], "format": ".3f", "grid": true, "tickSize": 4, "labelPadding": 3, "labelOverlap": false, "title": null}},
       "text": {"field": "t"},
       "color": {"field": "s", "type": "nominal", "scale": {"domain": ["r6", "r12", "r24"], "range": ["#f47a22", "#b65fd3", "#68bd68"]}, "legend": null}}}
  ]
}
]
}
